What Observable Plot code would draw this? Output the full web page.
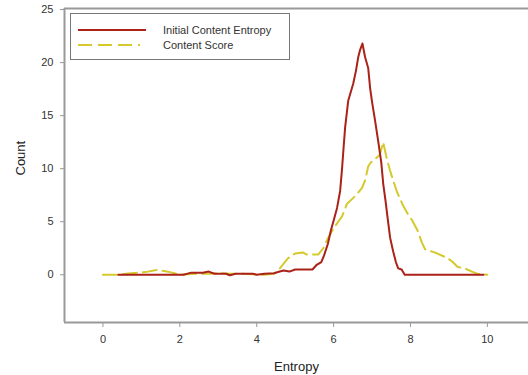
<!DOCTYPE html>
<html><head><meta charset="utf-8">
<script src="https://cdn.jsdelivr.net/npm/d3@7"></script>
<script src="https://cdn.jsdelivr.net/npm/@observablehq/plot@0.6"></script>
<style>
body{margin:0;background:#fff;font-family:"Liberation Sans",Arial,sans-serif;}
#wrap{position:relative;width:528px;height:375px;overflow:hidden;}
.legend{position:absolute;left:70px;top:13px;width:220px;height:47px;border:1px solid #777;box-sizing:border-box;background:#fff;font-size:11px;color:#333;}
.legend .row{position:absolute;left:0;height:14px;display:flex;align-items:center;}
.legend svg{margin-left:7px;}
.legend span{margin-left:17px;}
</style></head><body>
<div id="wrap"></div>
<script>
// Series: Initial Content Entropy
const initialX = [0.4,2.1,2.3,2.6,2.75,2.9,3.2,3.3,3.45,3.9,4.0,4.2,4.45,4.6,4.7,4.85,5.0,5.45,5.55,5.68,5.75,5.85,5.93,6.0,6.09,6.17,6.22,6.26,6.30,6.38,6.51,6.58,6.64,6.69,6.75,6.82,6.90,6.95,7.0,7.08,7.16,7.24,7.29,7.35,7.40,7.47,7.55,7.62,7.68,7.77,7.85,9.9];
const initialCount = [0,0,0.2,0.2,0.3,0.1,0.1,-0.05,0.1,0.1,0,0.1,0.15,0.3,0.4,0.3,0.5,0.5,0.9,1.2,1.8,2.9,4.2,5.1,6.3,7.9,10,12,13.9,16.4,18,19.2,20.5,21.2,21.8,20.5,19.5,17.6,16.3,14.5,12.6,10.6,8.6,7,5.5,3.5,2.2,1.2,0.6,0.5,0,0];
// Series: Content Score
const scoreX = [0,0.4,0.6,0.9,1.1,1.4,1.6,1.8,2.0,2.2,2.5,2.8,3.0,3.3,3.6,3.9,4.2,4.45,4.6,4.69,4.8,4.9,5.0,5.2,5.3,5.6,5.73,5.86,5.99,6.1,6.22,6.35,6.5,6.61,6.74,6.82,6.9,6.97,7.08,7.2,7.29,7.38,7.47,7.55,7.65,7.81,7.95,8.05,8.18,8.3,8.38,8.55,8.7,8.95,9.1,9.22,9.43,9.6,9.74,10.0];
const scoreCount = [0,0,0.1,0.2,0.25,0.45,0.35,0.2,0,0.05,0.1,0.1,0.15,0.1,0.1,0.05,0,0.1,0.6,1.0,1.5,1.8,2.0,2.1,1.9,1.9,2.5,3.5,4.3,4.9,5.5,6.7,7.2,7.6,8.2,8.9,10.2,10.6,10.9,11.3,12.5,11.0,9.8,8.9,7.8,6.5,5.6,5.1,4.2,3.0,2.4,2.2,2.0,1.6,1.2,0.75,0.57,0.3,0.1,0];
const seriesNames = ["Initial Content Entropy", "Content Score"];
const xTicks = [0,2,4,6,8,10];
const yTicks = [0,5,10,15,20,25];
const xDomain = [-1, 11.07];
const yDomain = [-4.5, 25.1];

const red = "#aa2218", yellow = "#d5c92c", axisGray = "#999";
const initialData = initialX.map((x,i)=>({x, y: initialCount[i]}));
const scoreData = scoreX.map((x,i)=>({x, y: scoreCount[i]}));

const plot = Plot.plot({
  width: 528, height: 375,
  marginLeft: 64, marginRight: 0, marginTop: 8, marginBottom: 53,
  style: {fontFamily: "'Liberation Sans', Arial, sans-serif", fontSize: "11px", color: "#333", background: "#fff"},
  x: {domain: xDomain},
  y: {domain: yDomain},
  marks: [
    Plot.ruleX([xDomain[0]], {stroke: axisGray, strokeWidth: 2}),
    Plot.ruleY([yDomain[0], yDomain[1]], {stroke: axisGray, strokeWidth: 2}),
    Plot.axisY({ticks: yTicks, tickSize: 4, tickPadding: 7, stroke: axisGray, fill: "#333", label: null}),
    Plot.axisX({ticks: xTicks, tickSize: 5, tickPadding: 8, stroke: axisGray, fill: "#333", label: null}),
    Plot.text(["Entropy"], {frameAnchor: "bottom", dy: 48, fontSize: 13, fill: "#222"}),
    Plot.text(["Count"], {frameAnchor: "left", dx: -44, dy: 10, rotate: -90, fontSize: 13, fill: "#222"}),
    Plot.line(scoreData, {x: "x", y: "y", stroke: yellow, strokeWidth: 2, strokeDasharray: "14,6"}),
    Plot.line(initialData, {x: "x", y: "y", stroke: red, strokeWidth: 2})
  ]
});
const wrap = document.getElementById("wrap");
wrap.appendChild(plot);

const legend = document.createElement("div");
legend.className = "legend";
legend.innerHTML = `
  <div class="row" style="top:9px"><svg width="68" height="6"><line x1="0" y1="3" x2="68" y2="3" stroke="${red}" stroke-width="2"/></svg><span>${seriesNames[0]}</span></div>
  <div class="row" style="top:24px"><svg width="68" height="6"><line x1="0" y1="3" x2="62" y2="3" stroke="${yellow}" stroke-width="2" stroke-dasharray="14,6"/></svg><span>${seriesNames[1]}</span></div>`;
wrap.appendChild(legend);
</script>
</body></html>
